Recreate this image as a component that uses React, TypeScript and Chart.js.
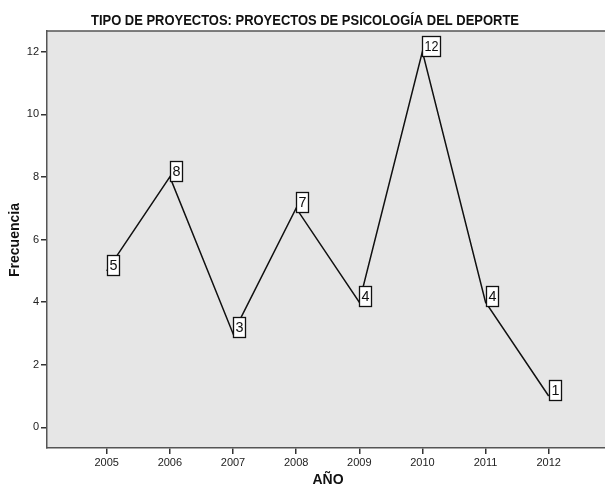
import React, { useEffect, useRef } from "react";
import { Chart, registerables } from "chart.js";

Chart.register(...registerables);

const years: number[] = [2005, 2006, 2007, 2008, 2009, 2010, 2011, 2012];
const counts: number[] = [5, 8, 3, 7, 4, 12, 4, 1];
const yTicks: number[] = [0, 2, 4, 6, 8, 10, 12];
const titleText = "TIPO DE PROYECTOS: PROYECTOS DE PSICOLOGÍA DEL DEPORTE";
const yTitle = "Frecuencia";
const xTitle = "AÑO";

const FONT = "'Liberation Sans', Arial, sans-serif";

const decorPlugin = {
  id: "decor",
  beforeDraw(chart: any) {
    const { ctx, chartArea } = chart;
    ctx.save();
    ctx.fillStyle = "#ffffff";
    ctx.fillRect(0, 0, chart.width, chart.height);
    ctx.fillStyle = "#e6e6e6";
    ctx.fillRect(chartArea.left, chartArea.top, chartArea.right - chartArea.left, chartArea.bottom - chartArea.top);
    ctx.restore();
  },
  afterDatasetsDraw(chart: any) {
    const { ctx } = chart;
    const meta = chart.getDatasetMeta(0);
    ctx.save();
    ctx.font = `15px ${FONT}`;
    ctx.textBaseline = "middle";
    ctx.textAlign = "center";
    meta.data.forEach((pt: any, i: number) => {
      const txt = String(counts[i]);
      const w = txt.length === 1 ? 12 : 18;
      const h = 20;
      const left = Math.round(pt.x);
      const top = Math.round(pt.y - 16);
      ctx.fillStyle = "#ffffff";
      ctx.fillRect(left, top, w, h);
      ctx.strokeStyle = "#111111";
      ctx.lineWidth = 1.3;
      ctx.strokeRect(left + 0.5, top + 0.5, w, h);
      ctx.fillStyle = "#111111";
      ctx.fillText(txt, left + w / 2 + 0.5, top + h / 2 + 1, w - 4);
    });
    ctx.restore();
  },
  afterDraw(chart: any) {
    const { ctx, chartArea } = chart;
    ctx.save();
    ctx.strokeStyle = "#555555";
    ctx.lineWidth = 1.5;
    ctx.beginPath();
    ctx.moveTo(chartArea.left, chartArea.top);
    ctx.lineTo(chartArea.right, chartArea.top);
    ctx.lineTo(chartArea.right, chartArea.bottom);
    ctx.stroke();
    ctx.fillStyle = "#111111";
    ctx.textAlign = "center";
    ctx.textBaseline = "middle";
    ctx.font = `bold 15px ${FONT}`;
    ctx.fillText(titleText, 305, 20.5, 428);
    ctx.font = `bold 14px ${FONT}`;
    ctx.fillText(xTitle, 328, 480);
    ctx.translate(15, 240);
    ctx.rotate(-Math.PI / 2);
    ctx.fillText(yTitle, 0, 0);
    ctx.restore();
  },
};

export default function App() {
  const ref = useRef<HTMLCanvasElement | null>(null);
  useEffect(() => {
    if (!ref.current) return;
    const chart = new Chart(ref.current, {
      type: "line",
      data: {
        datasets: [
          {
            data: years.map((y, i) => ({ x: y, y: counts[i] })),
            borderColor: "#111111",
            borderWidth: 1.5,
            pointRadius: 0,
            tension: 0,
            fill: false,
          },
        ],
      },
      options: {
        animation: false,
        responsive: false,
        devicePixelRatio: 1,
        layout: { padding: { top: 31, right: 3.6, left: 0, bottom: 0 } },
        plugins: { legend: { display: false }, title: { display: false }, tooltip: { enabled: false } },
        scales: {
          x: {
            type: "linear",
            min: 2004.054,
            max: 2012.946,
            afterFit: (s: any) => { s.height = 38; },
            afterBuildTicks: (s: any) => { s.ticks = years.map((v) => ({ value: v })); },
            ticks: {
              color: "#222222",
              font: { family: FONT, size: 11 },
              padding: 2,
              callback: (v: any) => String(v),
              maxRotation: 0,
            },
            grid: { drawOnChartArea: false, drawTicks: true, tickLength: 6, color: "#333333", lineWidth: 1.5 },
            border: { display: true, color: "#555555", width: 1.5 },
          },
          y: {
            type: "linear",
            min: -0.66,
            max: 12.66,
            afterFit: (s: any) => { s.width = 47; },
            afterBuildTicks: (s: any) => { s.ticks = yTicks.map((v) => ({ value: v })); },
            ticks: {
              color: "#222222",
              font: { family: FONT, size: 11 },
              padding: 2,
              callback: (v: any) => String(v),
            },
            grid: { drawOnChartArea: false, drawTicks: true, tickLength: 6, color: "#333333", lineWidth: 1.5 },
            border: { display: true, color: "#555555", width: 1.5 },
          },
        },
      },
      plugins: [decorPlugin],
    });
    return () => chart.destroy();
  }, []);
  return (
    <div style={{ position: "absolute", left: 0, top: 0, width: 605, height: 486, overflow: "hidden", background: "#fff" }}>
      <canvas ref={ref} width={612} height={486} style={{ display: "block" }} />
    </div>
  );
}
